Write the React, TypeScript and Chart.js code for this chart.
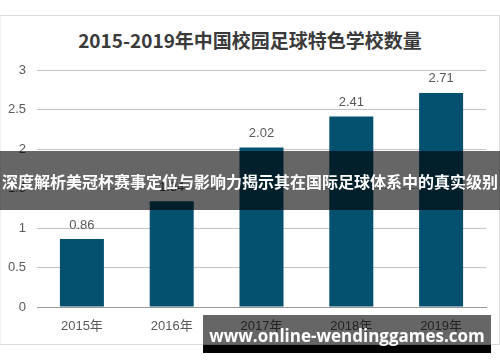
import React, { useEffect, useRef } from 'react';
import { Chart, registerables } from 'chart.js';

Chart.register(...registerables);

const categories = ['2015年', '2016年', '2017年', '2018年', '2019年'];
const values = [0.86, 1.34, 2.02, 2.41, 2.71];
const valueLabels = ['0.86', '1.34', '2.02', '2.41', '2.71'];
const yTicks = [0, 0.5, 1, 1.5, 2, 2.5, 3];
const yTickLabels = ['0', '0.5', '1', '1.5', '2', '2.5', '3'];
const titleText = '2015-2019年中国校园足球特色学校数量';
const bannerText = '深度解析美冠杯赛事定位与影响力揭示其在国际足球体系中的真实级别';
const watermarkText = 'www.online-wendinggames.com';

const BAR_COLOR = '#03506f';
const TEXT_GRAY = '#595959';
const FONT_FAMILY = '"Liberation Sans", Arial, "Noto Sans CJK SC", sans-serif';

const valueLabelPlugin = {
  id: 'valueLabels',
  afterDatasetsDraw(chart: any) {
    const ctx = chart.ctx;
    const meta = chart.getDatasetMeta(0);
    ctx.save();
    ctx.font = `13px ${FONT_FAMILY}`;
    ctx.fillStyle = TEXT_GRAY;
    ctx.textAlign = 'center';
    ctx.textBaseline = 'middle';
    meta.data.forEach((bar: any, i: number) => {
      ctx.fillText(valueLabels[i], bar.x, bar.y - 14);
    });
    ctx.restore();
  },
};

export default function App() {
  const canvasRef = useRef<HTMLCanvasElement | null>(null);

  useEffect(() => {
    if (!canvasRef.current) return;
    const chart = new Chart(canvasRef.current, {
      type: 'bar',
      data: {
        labels: categories,
        datasets: [
          {
            data: values,
            backgroundColor: BAR_COLOR,
            borderWidth: 0,
            categoryPercentage: 1,
            barPercentage: 0.49,
          },
        ],
      },
      options: {
        responsive: false,
        animation: false,
        devicePixelRatio: 1,
        layout: { padding: { top: 70, left: 0, right: 14, bottom: 15 } },
        plugins: {
          legend: { display: false },
          tooltip: { enabled: false },
          title: { display: false },
        },
        scales: {
          x: {
            grid: { display: false, drawTicks: false },
            border: { display: true, color: '#9a9a9a', width: 1 },
            ticks: { color: TEXT_GRAY, font: { size: 13, family: FONT_FAMILY }, padding: 12, maxRotation: 0 },
            afterFit: (s: any) => { s.height = 40; },
          },
          y: {
            min: 0,
            max: 3,
            grid: { color: '#c4c4c4', drawTicks: false, lineWidth: 1 },
            border: { display: false },
            ticks: {
              color: TEXT_GRAY,
              font: { size: 13, family: FONT_FAMILY },
              padding: 11,
              callback: (_v: any, i: number) => yTickLabels[i],
            },
            afterBuildTicks: (s: any) => { s.ticks = yTicks.map((v) => ({ value: v })); },
            afterFit: (s: any) => { s.width = 37; },
          },
        },
      },
      plugins: [valueLabelPlugin],
    });
    return () => chart.destroy();
  }, []);

  return (
    <div style={{ position: 'absolute', left: 0, top: 0, width: 500, height: 362, background: '#fff', overflow: 'hidden' }}>
      <div
        style={{
          position: 'absolute', left: 0, top: 15, width: 500, height: 330,
          boxSizing: 'border-box', border: '1px solid #dcdcdc', borderLeft: '1px solid #f0f0f0',
        }}
      />
      <div
        style={{
          position: 'absolute', left: 0, top: 28, width: 500, height: 24, lineHeight: '24px', textAlign: 'center',
          color: '#3a3a3a', fontFamily: '"Noto Sans CJK SC", sans-serif', fontWeight: 'bold', fontSize: 19, whiteSpace: 'nowrap',
        }}
      >
        {titleText}
      </div>
      <canvas ref={canvasRef} width={500} height={362} style={{ position: 'absolute', left: 0, top: 0, width: 500, height: 362 }} />
      <div
        style={{
          position: 'absolute', left: 0, top: 151, width: 500, height: 59,
          background: 'rgba(0,0,0,0.6)', color: '#fff', display: 'flex', alignItems: 'center', justifyContent: 'center',
          fontFamily: '"Noto Sans CJK SC", sans-serif', fontWeight: 'bold', fontSize: 16, whiteSpace: 'nowrap',
        }}
      >
        {bannerText}
      </div>
      <div style={{ position: 'absolute', left: 203, top: 315, width: 288, height: 30, background: 'rgba(0,0,0,0.6)' }} />
      <div style={{ position: 'absolute', left: 203, top: 345, width: 288, height: 8, background: '#000' }} />
      <div
        style={{
          position: 'absolute', left: 203, top: 322, width: 288, height: 28, lineHeight: '28px', textAlign: 'center',
          color: '#fff', fontFamily: '"Open Sans", sans-serif', fontWeight: 'bold', fontSize: 17, whiteSpace: 'nowrap',
        }}
      >
        {watermarkText}
      </div>
    </div>
  );
}
